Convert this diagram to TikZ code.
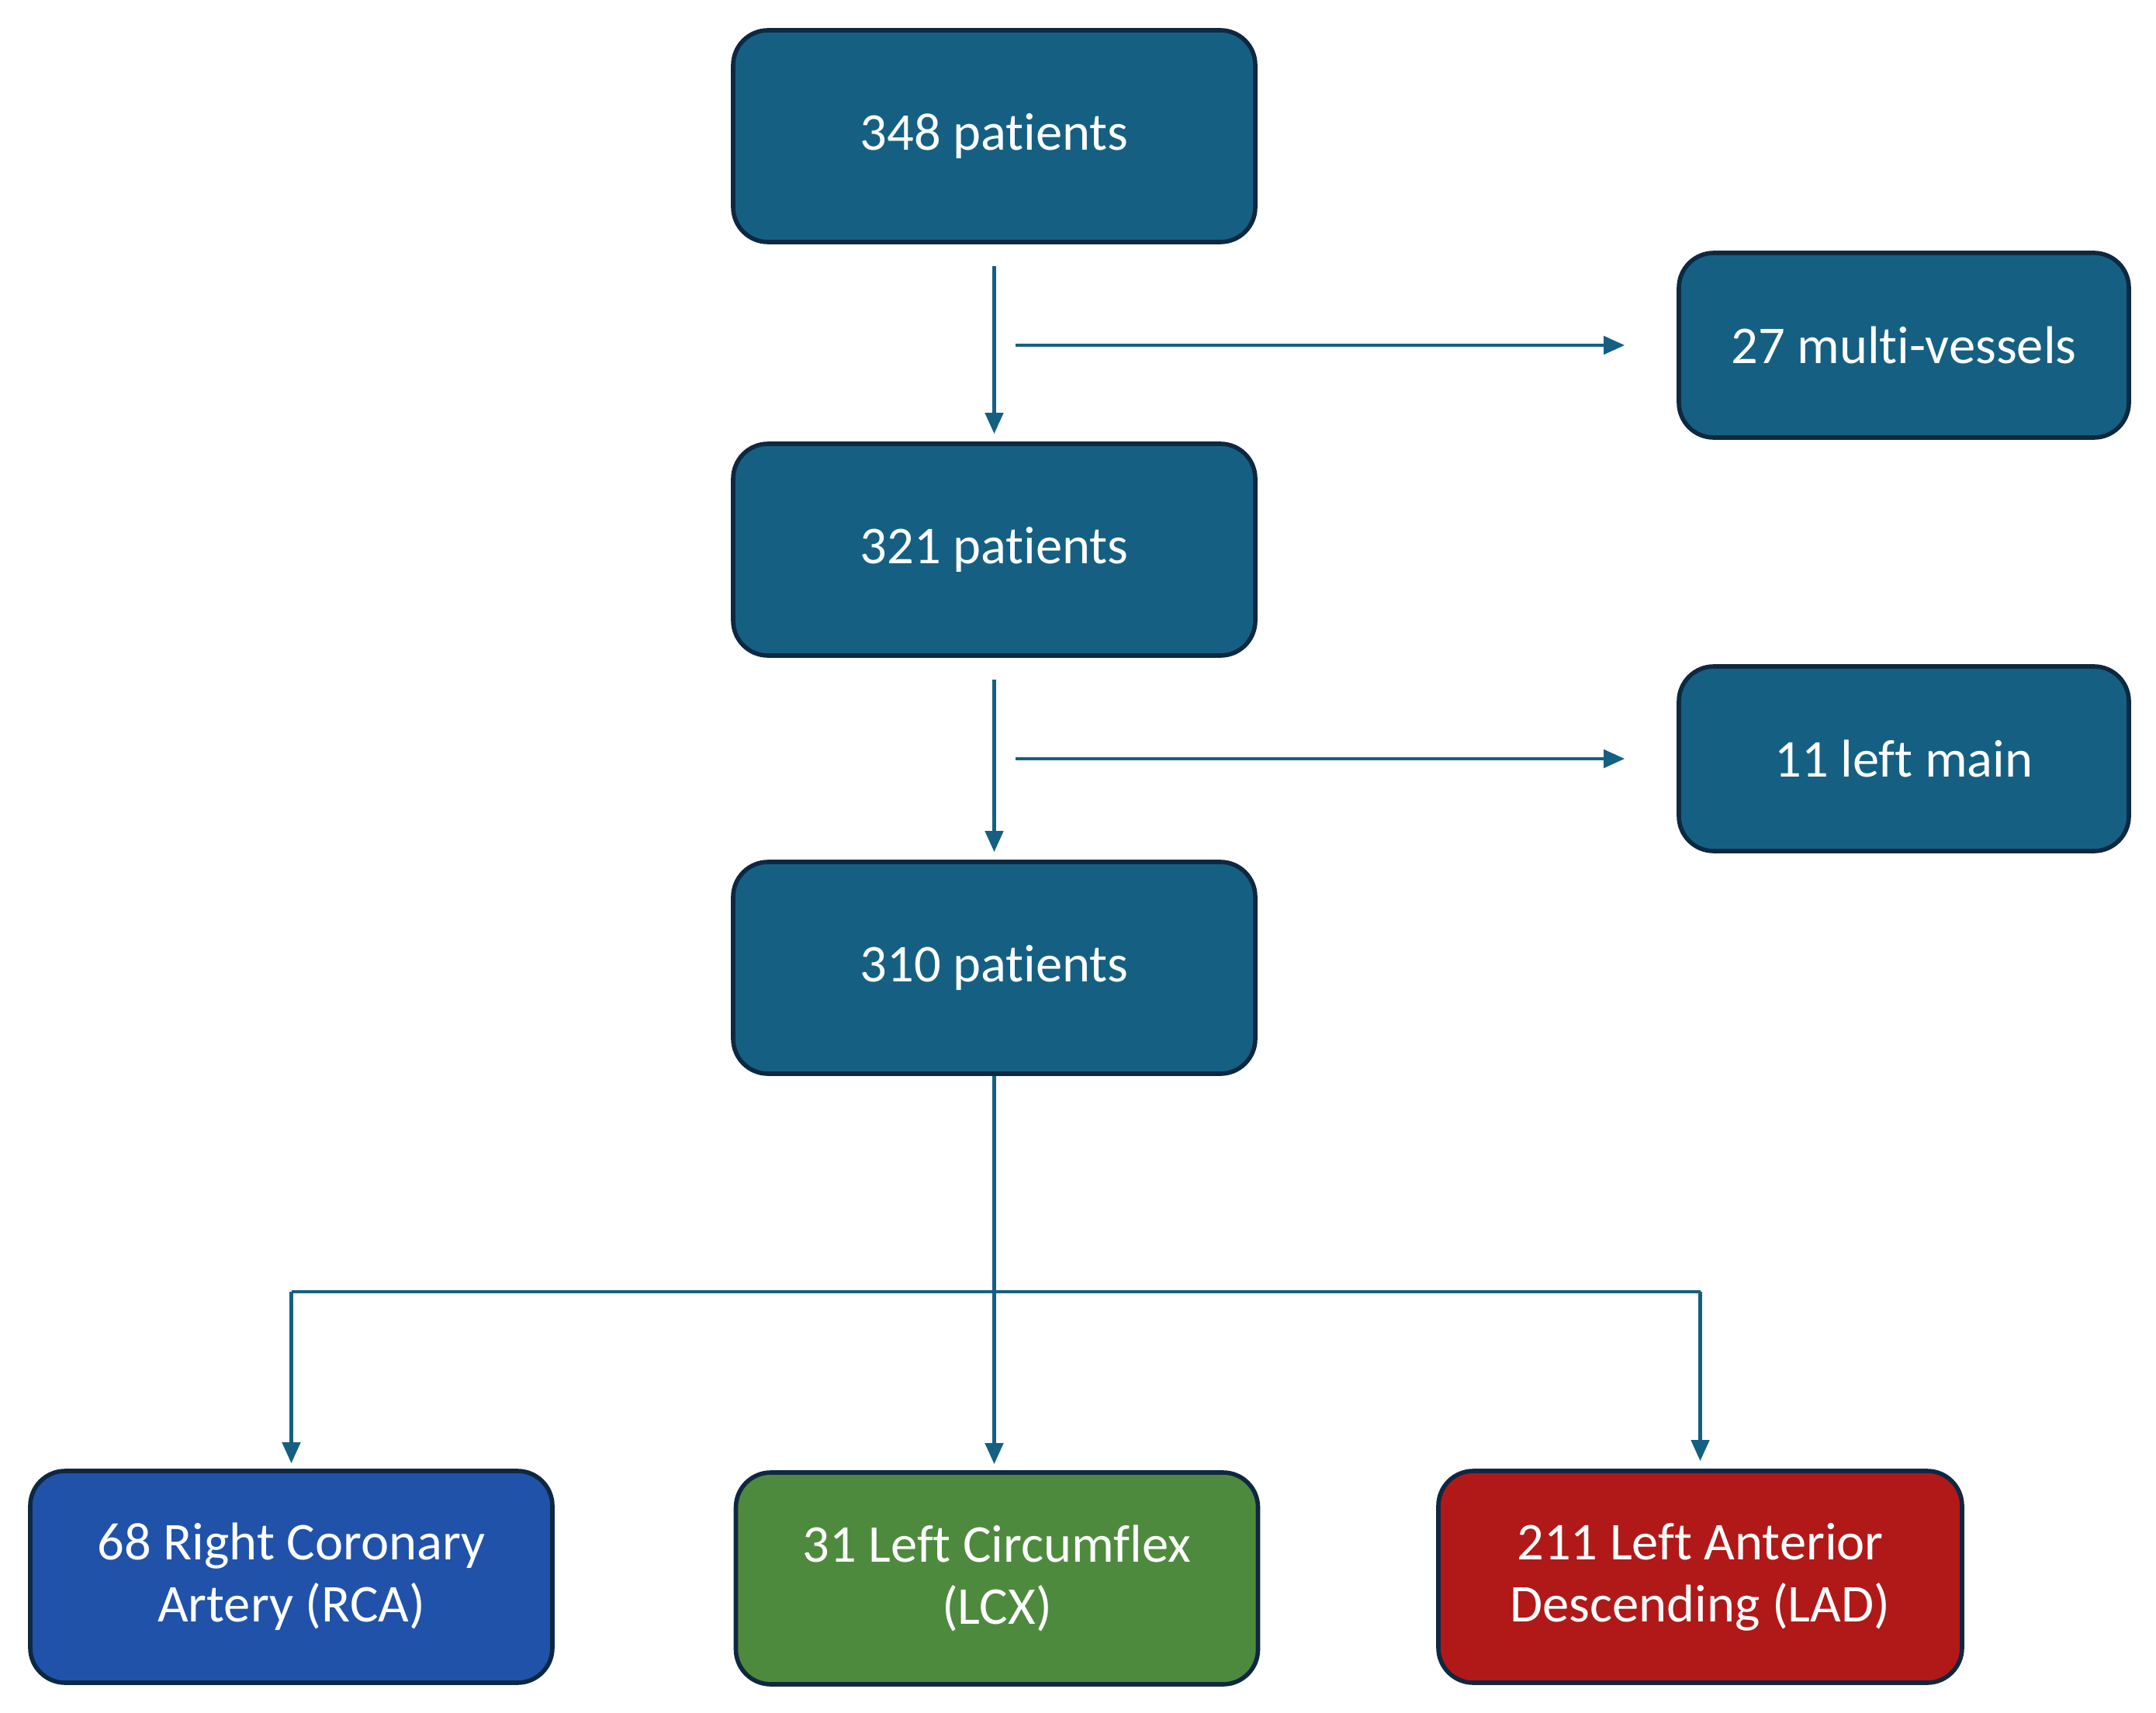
\documentclass[tikz,border=0pt]{standalone}
\usepackage{fontspec}
\setmainfont[Ligatures={NoCommon}]{Carlito}
\usetikzlibrary{arrows.meta}
\definecolor{teal1}{HTML}{156082}
\definecolor{edge1}{HTML}{0E2841}
\definecolor{rcablue}{HTML}{2052AA}
\definecolor{lcxgreen}{HTML}{4E8A3E}
\definecolor{ladred}{HTML}{B01918}
\tikzset{
  box/.style={draw=edge1, line width=1.6pt, rounded corners=0.45cm, fill=teal1,
    text=white, align=center, minimum width=6.73cm, minimum height=2.73cm,
    inner sep=0pt, font=\fontsize{19.5}{22.8}\selectfont},
  sidebox/.style={box, minimum width=5.8cm, minimum height=2.38cm},
  link/.style={draw=teal1, line width=1.3pt},
  arr/.style={link, -{Triangle[length=2.7mm, width=2.3mm]}}
}
\begin{document}
\begin{tikzpicture}
\useasboundingbox (0,0) rectangle (27.79,-22.08);
\node[box] (n348) at (12.815,-1.755) {348 patients};
\node[box] (n321) at (12.815,-7.085) {321 patients};
\node[box] (n310) at (12.815,-12.475) {310 patients};
\node[sidebox] (mv) at (24.54,-4.45) {27 multi-vessels};
\node[sidebox] (lm) at (24.54,-9.78) {11 left main};
\node[box, fill=rcablue] (rca) at (3.755,-20.325) {68 Right Coronary\\Artery (RCA)};
\node[box, fill=lcxgreen] (lcx) at (12.85,-20.345) {31 Left Circumflex\\(LCX)};
\node[box, fill=ladred, minimum width=6.75cm] (lad) at (21.915,-20.325) {211 Left Anterior\\Descending (LAD)};
% exclusions
\draw[arr] ([yshift=-0.28cm]n348.south) -- ([yshift=0.1cm]n321.north);
\draw[arr] ([xshift=0.27cm]n348.south |- mv.west) -- ([xshift=-0.67cm]mv.west);
\draw[arr] ([yshift=-0.28cm]n321.south) -- ([yshift=0.1cm]n310.north);
\draw[arr] ([xshift=0.27cm]n321.south |- lm.west) -- ([xshift=-0.67cm]lm.west);
% split
\coordinate (bar) at ([yshift=-2.78cm]n310.south);
\coordinate (lcxin) at ([yshift=0.08cm]lcx.north);
\draw[link] (n310.south) -- (bar);
\draw[link] (rca.north |- bar) -- (lad.north |- bar);
\draw[arr] (rca.north |- bar) -- ([yshift=0.07cm]rca.north);
\draw[arr] (bar) -- (bar |- lcxin);
\draw[arr] (lad.north |- bar) -- ([yshift=0.1cm]lad.north);
\end{tikzpicture}
\end{document}
